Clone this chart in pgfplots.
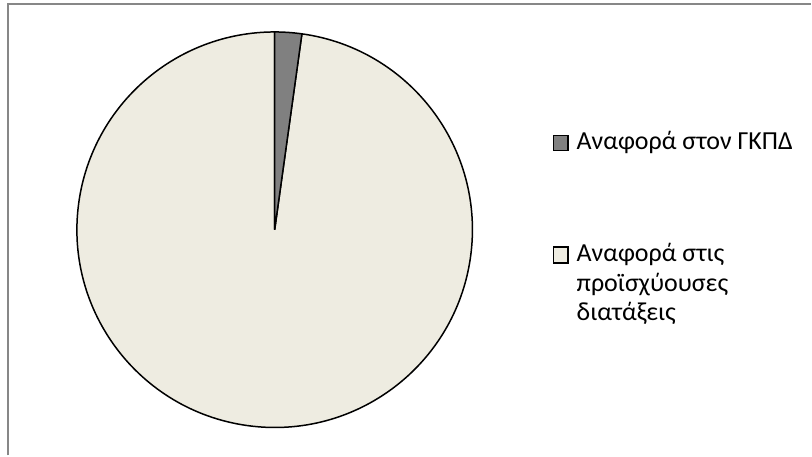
\documentclass[border=0pt]{standalone}
\usepackage{pgfplots}
\pgfplotsset{compat=1.18}
\usepackage{pgfplotstable}
\usepackage{fontspec}
\setmainfont{Carlito}

\definecolor{sliceA}{HTML}{808080}
\definecolor{sliceB}{HTML}{EEECE1}
\definecolor{frame}{HTML}{878787}

% shares in percent
\pgfplotstableread{
share
2.2
97.8
}\piedata

\pgfplotstablegetelem{0}{share}\of\piedata
\pgfmathsetmacro{\angA}{90-3.6*\pgfplotsretval}

\pgfplotsset{
    key short/.style={legend image code/.code={%
        \draw[fill=#1, draw=black, line width=1.2pt] (0pt,-1pt) rectangle (15pt,14pt);}},
    key tall/.style={legend image code/.code={%
        \draw[fill=#1, draw=black, line width=1.2pt] (0pt,58pt) rectangle (15pt,74pt);}},
}

\begin{document}
\begin{tikzpicture}
\begin{axis}[
    x=1pt, y=1pt,
    xmin=-275, xmax=537,
    ymin=-226, ymax=230,
    hide axis, clip=false,
    legend style={
        at={(0.681,0.713)}, anchor=north west,
        draw=none, fill=none, inner sep=0pt,
        font=\fontsize{26}{29.5}\selectfont,
        row sep=93pt, column sep=8pt,
        nodes={align=left, inner sep=0pt},
        cells={anchor=base west},
    },
]
\path (axis cs:-275,-226) rectangle (axis cs:537,230);
\draw[frame, line width=2pt] (axis cs:-267,-226) -- (axis cs:-267,226) -- (axis cs:537,226);

\filldraw[fill=sliceB, draw=black, line width=1.5pt]
    (axis cs:0,0) -- (axis cs:{198*cos(\angA)},{198*sin(\angA)})
    arc[start angle=\angA, end angle=-270, radius=198pt] -- cycle;
\filldraw[fill=sliceA, draw=black, line width=1.5pt]
    (axis cs:0,0) -- (axis cs:0,198)
    arc[start angle=90, end angle=\angA, radius=198pt] -- cycle;

\addlegendimage{key short=sliceA}
\addlegendentry{Αναφορά στον ΓΚΠΔ}
\addlegendimage{key tall=sliceB}
\addlegendentry{Αναφορά στις\\προϊσχύουσες\\διατάξεις}
\end{axis}
\end{tikzpicture}
\end{document}
